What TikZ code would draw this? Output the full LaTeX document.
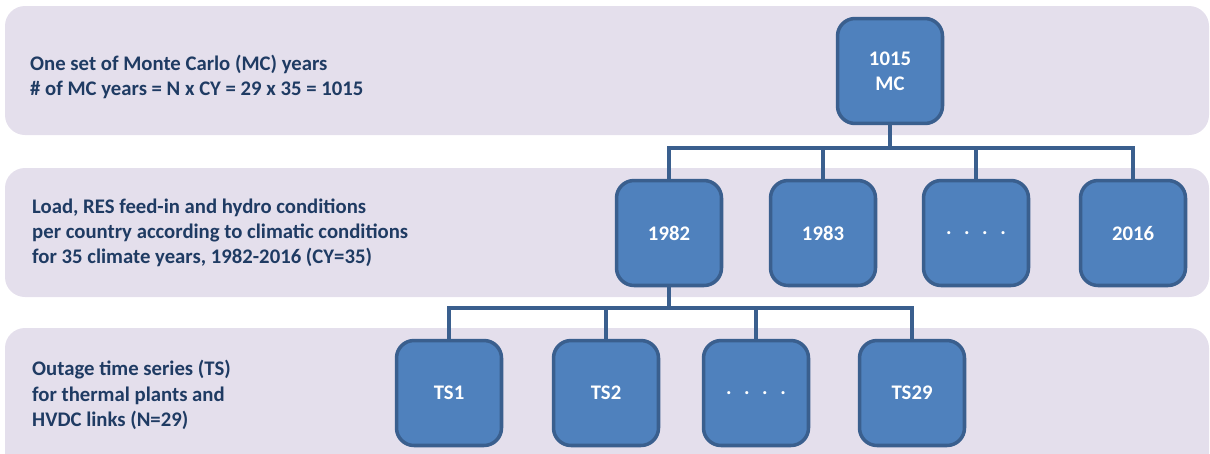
\documentclass[tikz,border=0pt]{standalone}
\usepackage{fontspec}
\setmainfont{Carlito}
\definecolor{bandfill}{HTML}{E4DFEC}
\definecolor{boxfill}{HTML}{4F81BD}
\definecolor{boxline}{HTML}{3A5F8E}
\definecolor{navy}{HTML}{1F3B63}
\newcommand{\fourdots}{.\hspace{0.25cm}.\hspace{0.25cm}.\hspace{0.25cm}.}
\begin{document}
\begin{tikzpicture}[x=0.02cm, y=-0.02cm,
    band/.style={fill=bandfill, rounded corners=0.4cm},
    yearbox/.style={draw=boxline, line width=2pt, fill=boxfill, rounded corners=0.35cm,
        minimum width=2.1cm, minimum height=2.1cm, text=white, align=center,
        font=\bfseries\fontsize{11.8}{14.4}\selectfont},
    rowtext/.style={anchor=west, text=navy, align=left,
        font=\bfseries\fontsize{11.8}{14.4}\selectfont},
    link/.style={draw=boxline, line width=2.2pt}]
    \useasboundingbox (0,0) rectangle (1210,453);
    % background bands
    \fill[band] (5,6) rectangle (1209,135);
    \fill[band] (5,168) rectangle (1209,297);
    \fill[band] (5,328) rectangle (1209,475);
    % row labels
    \node[rowtext] (mctext) at (24,77) {One set of Monte Carlo (MC) years\\\# of MC years = N x CY = 29 x 35 = 1015};
    \node[rowtext] (cytext) at (26,233) {Load, RES feed-in and hydro conditions\\per country according to climatic conditions\\for 35 climate years, 1982-2016 (CY=35)};
    \node[rowtext] (tstext) at (26,395) {Outage time series (TS)\\for thermal plants and\\HVDC links (N=29)};
    % boxes
    \node[yearbox] (mc) at (890,71) {1015\\MC};
    \node[yearbox] (y1982) at (669,233) {1982};
    \node[yearbox] (y1983) at (823,233) {1983};
    \node[yearbox] (ydots) at (976,233) {\fourdots};
    \node[yearbox] (y2016) at (1133,233) {2016};
    \node[yearbox] (ts1) at (449,393) {TS1};
    \node[yearbox] (ts2) at (606,393) {TS2};
    \node[yearbox] (tsdots) at (756,393) {\fourdots};
    \node[yearbox] (ts29) at (912,393) {TS29};
    % connectors
    \coordinate (bus1) at (0,148);
    \coordinate (bus2) at (0,308);
    \draw[link] (mc.south) -- (mc.south |- bus1);
    \draw[link] (y1982.north) |- (y2016.north |- bus1) -- (y2016.north);
    \foreach \n in {y1983, ydots}
        \draw[link] (\n.north) -- (\n.north |- bus1);
    \draw[link] (y1982.south) -- (y1982.south |- bus2);
    \draw[link] (ts1.north) |- (ts29.north |- bus2) -- (ts29.north);
    \foreach \n in {ts2, tsdots}
        \draw[link] (\n.north) -- (\n.north |- bus2);
\end{tikzpicture}
\end{document}
